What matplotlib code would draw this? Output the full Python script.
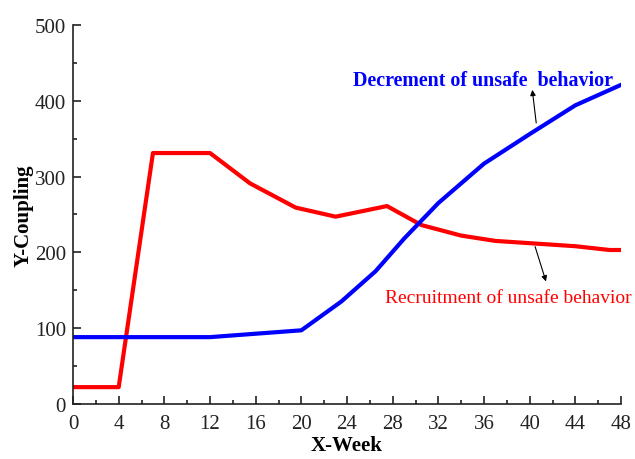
import matplotlib
matplotlib.use('Agg')
import matplotlib.pyplot as plt
from matplotlib.ticker import MultipleLocator

plt.rcParams['font.family'] = ['Liberation Serif', 'DejaVu Serif']

# Recruitment of unsafe behavior (red)
red_week = [0, 4, 7, 12, 15.5, 19.5, 23, 27.5, 30.5, 34, 37, 40, 44, 47, 48]
red_val = [22, 22, 331, 331, 291, 259, 247, 261, 236, 222, 215, 212, 208, 203, 203]

# Decrement of unsafe behavior (blue)
blue_week = [0, 12, 20, 23.5, 26.5, 29, 32, 36, 40, 44, 48]
blue_val = [88, 88, 97, 135, 175, 218, 265, 317, 356, 394, 421]

fig = plt.figure(figsize=(6.35, 4.6), dpi=100)
ax = fig.add_axes([0.115, 0.12, 0.863, 0.8235])

ax.plot(red_week, red_val, color='#ff0000', lw=3)
ax.plot(blue_week, blue_val, color='#0000ff', lw=3)

ax.set_xlim(0, 48)
ax.set_ylim(0, 500)
ax.xaxis.set_major_locator(MultipleLocator(4))
ax.xaxis.set_minor_locator(MultipleLocator(2))
ax.yaxis.set_major_locator(MultipleLocator(100))
ax.yaxis.set_minor_locator(MultipleLocator(50))
ax.tick_params(which='both', direction='in', labelsize=15, colors='#222222')
ax.tick_params(which='major', length=6, width=1.2)
ax.tick_params(which='minor', length=3, width=1.2)
ax.tick_params(axis='x', pad=7)
ax.tick_params(axis='y', pad=5)
for s in ['top', 'right']:
    ax.spines[s].set_visible(False)
for s in ['left', 'bottom']:
    ax.spines[s].set_linewidth(1.2)
    ax.spines[s].set_color('#222222')

ax.set_xlabel('X-Week', fontsize=15, fontweight='bold', labelpad=2)
ax.set_ylabel('Y-Coupling', fontsize=15, fontweight='bold', labelpad=1)

ax.annotate('', xy=(40.2, 418), xytext=(40.6, 367),
            arrowprops=dict(arrowstyle='-|>', color='black', lw=0.8, mutation_scale=8))
ax.text(24.5, 428, 'Decrement of unsafe  behavior', color='#0000ff',
        fontsize=14.4, fontweight='bold', va='center')
ax.annotate('', xy=(41.5, 158), xytext=(40.4, 211),
            arrowprops=dict(arrowstyle='-|>', color='black', lw=0.8, mutation_scale=8))
ax.text(27.3, 140, 'Recruitment of unsafe behavior', color='#ff0000',
        fontsize=14, va='center')

fig.savefig('out.png', dpi=100)
